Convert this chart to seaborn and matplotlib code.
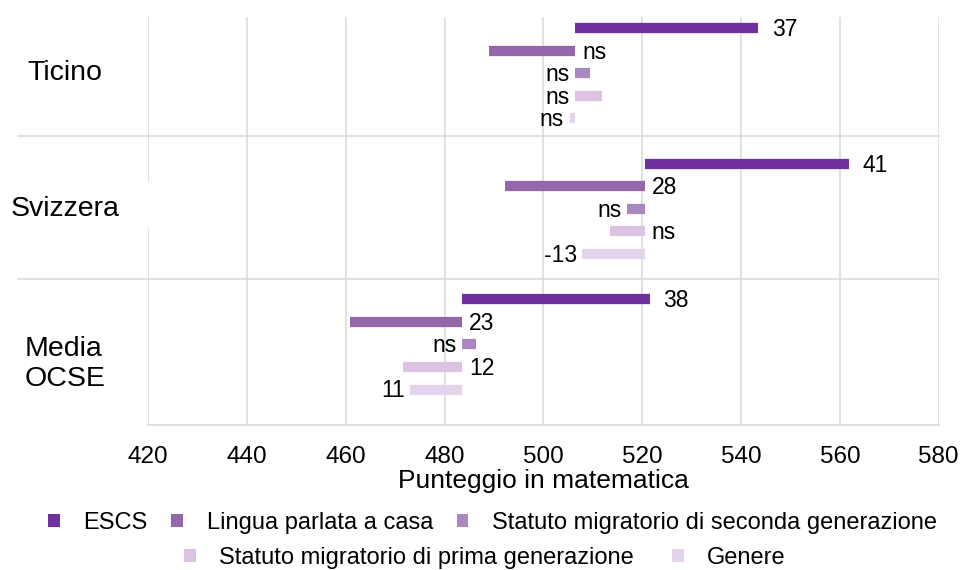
import matplotlib
matplotlib.use("Agg")
import matplotlib.pyplot as plt
from matplotlib.patches import Patch, Rectangle
import seaborn as sns
import pandas as pd

# ---------------- data ----------------
regions = ["Ticino", "Svizzera", "Media\nOCSE"]
region_mean = [506.5, 520.5, 483.6]
factors = ["ESCS", "Lingua parlata a casa",
           "Statuto migratorio di seconda generazione",
           "Statuto migratorio di prima generazione", "Genere"]
diff_ticino = [37.0, -17.4, 2.9, 5.3, -1.2]
diff_svizzera = [41.3, -28.2, -3.6, -7.1, -12.6]
diff_ocse = [37.9, -22.7, 2.7, -12.1, -10.5]
labels_ticino = ["37", "ns", "ns", "ns", "ns"]
labels_svizzera = ["41", "28", "ns", "ns", "-13"]
labels_ocse = ["38", "23", "ns", "12", "11"]
side_ticino = ["r", "r", "l", "l", "l"]
side_svizzera = ["r", "r", "l", "r", "l"]
side_ocse = ["r", "r", "l", "r", "l"]
xticks = [420, 440, 460, 480, 500, 520, 540, 560, 580]
colors = ["#7030A0", "#9467AA", "#A987C0", "#DCC3E3", "#E2D4EA"]

diffs = [diff_ticino, diff_svizzera, diff_ocse]
labels = [labels_ticino, labels_svizzera, labels_ocse]
sides = [side_ticino, side_svizzera, side_ocse]

# ---------------- build long table ----------------
rows = []
ann = []
for g, reg in enumerate(regions):
    base = region_mean[g]
    for k, fac in enumerate(factors):
        slot = g * 6 + k
        end = base + diffs[g][k]
        bar_id = f"{g}-{k}"
        rows.append({"x": base, "y": slot, "factor": fac, "bar": bar_id})
        rows.append({"x": end, "y": slot, "factor": fac, "bar": bar_id})
        ann.append((base, end, slot, labels[g][k], sides[g][k], k))
df = pd.DataFrame(rows)

sns.set_theme(style="white")
plt.rcParams["font.family"] = ["Liberation Sans", "DejaVu Sans"]
plt.rcParams["text.color"] = "black"

fig = plt.figure(figsize=(9.6, 5.7), dpi=100)
ax = fig.add_axes([148 / 960, 145 / 570, (938.7 - 148) / 960, (425 - 17) / 570])

sns.lineplot(data=df, x="x", y="y", hue="factor", units="bar", estimator=None,
             palette=colors, hue_order=factors, lw=7.4, solid_capstyle="butt",
             legend=False, ax=ax, zorder=3)

ax.set_xlim(420, 580)
ax.set_ylim(17.57, -0.49)
ax.set_xticks(xticks)
ax.set_xticklabels([str(t) for t in xticks], fontsize=17.5, color="black")
ax.set_yticks([])
ax.set_ylabel("")
ax.set_xlabel("Punteggio in matematica", fontsize=19, color="black", labelpad=1)
ax.tick_params(axis="x", length=5, width=1.1, color="#D9D9D9", pad=10)

for s in ["top", "right", "left"]:
    ax.spines[s].set_visible(False)
ax.spines["bottom"].set_color("#D9D9D9")
ax.spines["bottom"].set_linewidth(1.1)

for t in xticks:
    ax.axvline(t, color="#D9D9D9", lw=1.1, zorder=1)

# group separators
for ysep in [4.78, 11.1]:
    ax.axhline(ysep, xmin=-0.164, xmax=1.0, color="#D9D9D9", lw=1.1,
               clip_on=False, zorder=1)

# category labels
label_y = [2, 8, 14.85]
for g, reg in enumerate(regions):
    ax.text(-0.105, label_y[g], reg, transform=ax.get_yaxis_transform(),
            ha="center", va="center", fontsize=20.5, multialignment="left",
            color="black")

# white box behind Svizzera label (covers part of the gridline)
fig.add_artist(Rectangle((141 / 960, 1 - 228 / 570), 11 / 960, 46 / 570,
                         facecolor="white", edgecolor="none", zorder=5))

# data labels
for base, end, slot, txt, side, k in ann:
    if side == "r":
        x = max(base, end)
        off = 10 if k == 0 else 5
        ax.annotate(txt, (x, slot), xytext=(off, -1), textcoords="offset points",
                    ha="left", va="center", fontsize=16.5, color="black")
    else:
        x = min(base, end)
        ax.annotate(txt, (x, slot), xytext=(-4, -1), textcoords="offset points",
                    ha="right", va="center", fontsize=16.5, color="black")

# legends (two rows)
handles = [Patch(facecolor=c, edgecolor="none") for c in colors]
leg1 = fig.legend(handles[:3], factors[:3], loc="center", ncol=3,
                  bbox_to_anchor=(0.513, 1 - 523 / 570), frameon=False,
                  fontsize=17, handlelength=0.5, handleheight=0.5,
                  handletextpad=1.0, columnspacing=1.0, labelcolor="black")
leg2 = fig.legend(handles[3:], factors[3:], loc="center", ncol=2,
                  bbox_to_anchor=(0.505, 1 - 558 / 570), frameon=False,
                  fontsize=17, handlelength=0.5, handleheight=0.5,
                  handletextpad=1.0, columnspacing=1.6, labelcolor="black")

fig.savefig("out.png", dpi=100)
